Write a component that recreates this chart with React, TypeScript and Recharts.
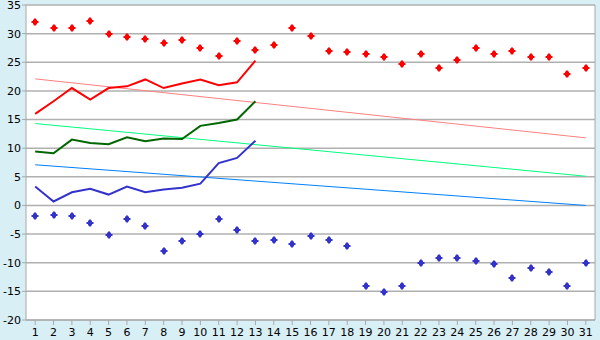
import React from "react";
import { ComposedChart, Line, Scatter, XAxis, YAxis, CartesianGrid } from "recharts";

const days = Array.from({ length: 31 }, (_, i) => i + 1);
const dayLabels = days.map(String);

const maxTemps = [32.1, 31.0, 31.0, 32.2, 30.0, 29.4, 29.1, 28.4, 28.9, 27.5, 26.1, 28.7, 27.2, 28.0, 31.0, 29.6, 27.0, 26.8, 26.5, 25.9, 24.7, 26.5, 24.0, 25.4, 27.5, 26.5, 27.0, 25.9, 25.9, 23.0, 24.0];
const minTemps = [-1.9, -1.6, -1.9, -3.0, -5.1, -2.3, -3.5, -7.9, -6.2, -4.9, -2.3, -4.2, -6.2, -6.0, -6.7, -5.3, -6.0, -7.0, -14.0, -15.1, -14.0, -10.0, -9.1, -9.1, -9.7, -10.2, -12.6, -11.0, -11.6, -14.0, -10.0];

const highs = [16.0, 18.2, 20.5, 18.5, 20.5, 20.8, 22.0, 20.5, 21.3, 22.0, 21.0, 21.5, 25.3];
const means = [9.4, 9.1, 11.5, 10.9, 10.7, 11.9, 11.2, 11.7, 11.6, 13.9, 14.4, 15.0, 18.2];
const lows = [3.3, 0.7, 2.3, 2.9, 1.9, 3.3, 2.3, 2.8, 3.1, 3.8, 7.4, 8.3, 11.3];

// normal (trend) lines: values at first and last day
const normalHigh = [22.1, 11.8];
const normalMean = [14.3, 5.1];
const normalLow = [7.1, 0.0];

const yTicks = [-20, -15, -10, -5, 0, 5, 10, 15, 20, 25, 30, 35];

const data = days.map((d, i) => ({
  day: dayLabels[i],
  max: maxTemps[i],
  min: minTemps[i],
  high: i < highs.length ? highs[i] : null,
  mean: i < means.length ? means[i] : null,
  low: i < lows.length ? lows[i] : null,
  nHigh: i === 0 ? normalHigh[0] : i === days.length - 1 ? normalHigh[1] : null,
  nMean: i === 0 ? normalMean[0] : i === days.length - 1 ? normalMean[1] : null,
  nLow: i === 0 ? normalLow[0] : i === days.length - 1 ? normalLow[1] : null,
}));

const Marker = (props: any) => {
  const { cx, cy, fill } = props;
  if (cx == null || cy == null) return null;
  const x = Math.round(cx);
  const y = Math.round(cy);
  const d = `M${x - 1},${y - 3.5} h2 v1 h1 v1.5 h1.5 v2 h-1.5 v1.5 h-1 v1 h-2 v-1 h-1 v-1.5 h-1.5 v-2 h1.5 v-1.5 h1 z`;
  return <path d={d} fill={fill} />;
};

const tickStyle = { fontFamily: "DejaVu Sans", fontSize: 11, fill: "#000" };

export default function App() {
  return (
    <div style={{ width: 600, height: 340, background: "#d9eff6" }}>
      <style>{`body{margin:0}`}</style>
      <ComposedChart width={600} height={340} data={data} margin={{ top: 5, right: 0, bottom: 0, left: 0 }}>
        <CartesianGrid vertical={false} stroke="#b0b0b0" strokeWidth={1.5} fill="#ffffff" />
        <XAxis
          dataKey="day"
          scale="band"
          interval={0}
          stroke="#a8a8a8"
          tickSize={5}
          tickMargin={3}
          tick={tickStyle}
          height={20}
        />
        <YAxis
          domain={[-20, 35]}
          ticks={yTicks}
          interval={0}
          stroke="#a8a8a8"
          tickSize={4}
          tickMargin={1}
          width={26}
          tick={tickStyle}
          type="number"
        />
        <YAxis yAxisId="r" orientation="right" domain={[-20, 35]} tick={false} tickLine={false} width={5} stroke="#a8a8a8" />
        <Line dataKey="nHigh" stroke="#ff8080" strokeWidth={1} dot={false} connectNulls isAnimationActive={false} />
        <Line dataKey="nMean" stroke="#00ff80" strokeWidth={1} dot={false} connectNulls isAnimationActive={false} />
        <Line dataKey="nLow" stroke="#0080ff" strokeWidth={1} dot={false} connectNulls isAnimationActive={false} />
        <Line dataKey="high" stroke="#ff0000" strokeWidth={2} dot={false} isAnimationActive={false} />
        <Line dataKey="mean" stroke="#006600" strokeWidth={2} dot={false} isAnimationActive={false} />
        <Line dataKey="low" stroke="#3333cc" strokeWidth={2} dot={false} isAnimationActive={false} />
        <Scatter dataKey="max" fill="#ff0000" shape={<Marker />} isAnimationActive={false} />
        <Scatter dataKey="min" fill="#3333cc" shape={<Marker />} isAnimationActive={false} />
      </ComposedChart>
    </div>
  );
}
